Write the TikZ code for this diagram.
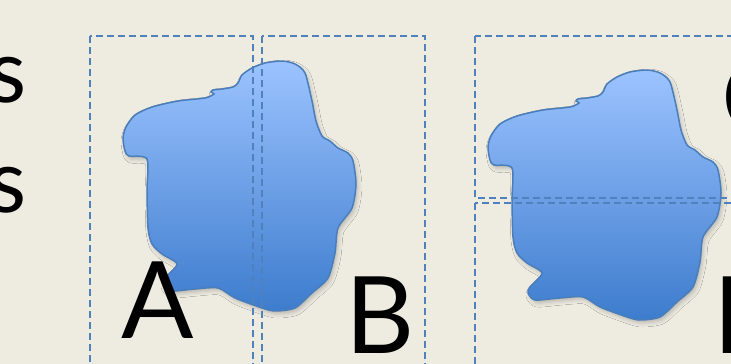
\documentclass[tikz,border=0pt]{standalone}
\usepackage{fontspec}
\setmainfont{Lato}
\usepackage{tikz}
\usetikzlibrary{shadows.blur}
\definecolor{slidebg}{HTML}{EEEBE1}
\definecolor{blobtop}{HTML}{9CC3FF}
\definecolor{blobbottom}{HTML}{3D7CCD}
\definecolor{blobline}{HTML}{4A7EBB}
\definecolor{dashblue}{HTML}{4F81BD}
\tikzset{
  region/.style={draw=dashblue, line width=1.8pt, dash pattern=on 7pt off 4pt},
  blob/.style={draw=blobline, line width=1.5pt, top color=blobtop, bottom color=blobbottom,
    blur shadow={shadow xshift=2pt, shadow yshift=-3pt, shadow blur radius=4pt, shadow opacity=22}},
  bigletter/.style={font=\fontsize{107}{107}\selectfont, inner sep=0pt},
  wordend/.style={font=\fontsize{88}{88}\selectfont, inner sep=0pt},
  cloudblob/.pic={\path[blob] plot[smooth cycle, tension=0.45] coordinates {
      (488,147) (490,160) (494,165) (512,168) (512,200) (513,237) (517,253) (527,263)
      (542,273) (530,287) (528,293) (535,300) (560,298) (583,297) (600,307) (627,317)
      (640,320) (660,317) (677,302) (693,287) (700,262) (703,237) (717,217) (721,193)
      (718,170) (713,162) (703,157) (695,150) (687,145) (681,130) (677,110) (670,82)
      (660,73) (647,70) (630,72) (617,77) (607,84) (603,92) (598,96) (587,98)
      (578,99) (576,101) (579,103) (570,107) (543,110) (517,116) (500,124) (491,136)};}
}
\begin{document}
\begin{tikzpicture}[x=1pt, y=-1pt]
  \fill[slidebg] (0,0) rectangle (731,364);
  \useasboundingbox (0,0) rectangle (731,364);
  \clip (0,0) rectangle (731,364);

  % the two blobs
  \pic at (-365,-9) {cloudblob};
  \pic at (0,0) {cloudblob};

  % dashed regions
  \draw[region] (90,36) rectangle (253,380);
  \draw[region] (262,36) rectangle (425,380);
  \draw[region] (475,36) rectangle (745,198);
  \draw[region] (475,203) rectangle (745,380);

  % text
  \node[wordend, anchor=base east] (wordone) at (27,102) {s};
  \node[wordend, anchor=base east] (wordtwo) at (27,212) {s};
  \node[bigletter, anchor=base] (setA) at (158,338) {A};
  \node[bigletter, anchor=base] (setB) at (380,353) {B};
  \node[bigletter, anchor=base west] (setC) at (721,135) {C};
  \node[bigletter, anchor=base west] (setD) at (713,353) {D};
\end{tikzpicture}
\end{document}
